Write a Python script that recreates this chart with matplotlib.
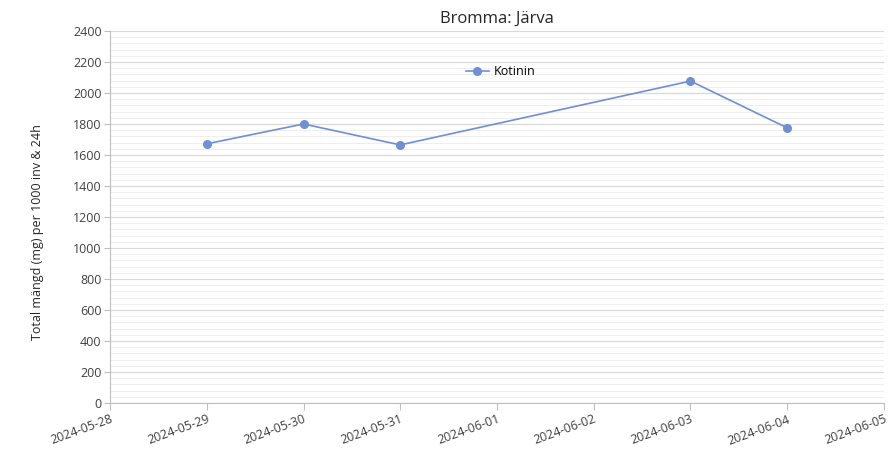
import matplotlib
matplotlib.use("Agg")
import matplotlib.pyplot as plt
import matplotlib.dates as mdates
from matplotlib.ticker import MultipleLocator
import numpy as np
import datetime as dt

dates = ["2024-05-29", "2024-05-30", "2024-05-31", "2024-06-03", "2024-06-04"]
kotinin = [1672, 1800, 1665, 2077, 1775]
series_name = "Kotinin"
title = "Bromma: Järva"
ylabel = "Total mängd (mg) per 1000 inv & 24h"

plt.rcParams['font.family'] = ['Open Sans', 'DejaVu Sans']

x = [dt.datetime.strptime(d, "%Y-%m-%d") for d in dates]

fig = plt.figure(figsize=(8.93, 4.49), dpi=100)
ax = fig.add_axes([0.1232, 0.1024, 0.8667, 0.8286])

ax.plot(x, kotinin, color="#6f8fd6", marker="o", markersize=5.5, linewidth=1.2,
        label=series_name, zorder=3)

ax.set_xlim(dt.datetime(2024, 5, 28), dt.datetime(2024, 6, 5))
ax.set_ylim(0, 2400)
ax.yaxis.set_major_locator(MultipleLocator(200))
ax.yaxis.set_minor_locator(MultipleLocator(40))
ax.xaxis.set_major_locator(mdates.DayLocator())
ax.xaxis.set_major_formatter(mdates.DateFormatter("%Y-%m-%d"))

ax.grid(which="major", axis="y", color="#d9d9d9", linewidth=0.9)
ax.grid(which="minor", axis="y", color="#eeeeee", linewidth=0.8)
ax.set_axisbelow(True)

for s in ["top", "right"]:
    ax.spines[s].set_visible(False)
for s in ["left", "bottom"]:
    ax.spines[s].set_color("#bfbfbf")

ax.tick_params(axis="y", which="major", length=4, color="#bfbfbf", labelsize=9, labelcolor="#404040", pad=2)
ax.tick_params(axis="y", which="minor", length=0)
ax.tick_params(axis="x", which="major", length=5, color="#bfbfbf", labelsize=9, labelcolor="#404040", pad=2)
for lab in ax.get_xticklabels():
    lab.set_rotation(20)
    lab.set_ha("right")
    lab.set_rotation_mode("anchor")

ax.set_title(title, fontsize=12, color="#262626", pad=6)
ax.set_ylabel(ylabel, fontsize=9, color="#262626")
ax.yaxis.set_label_coords(-0.085, 0.46)

ax.legend(loc="center", bbox_to_anchor=(0.505, 0.89), frameon=False, fontsize=9,
          handlelength=1.8, handletextpad=0.4)

fig.savefig("out.png", dpi=100)
